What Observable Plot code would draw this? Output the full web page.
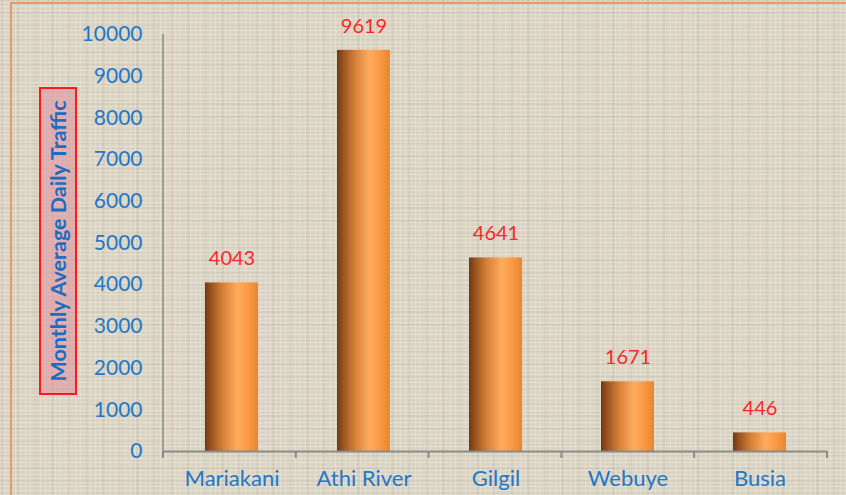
<!DOCTYPE html>
<html>
<head>
<meta charset="utf-8">
<script src="https://cdn.jsdelivr.net/npm/d3@7"></script>
<script src="https://cdn.jsdelivr.net/npm/@observablehq/plot@0.6"></script>
<style>
  html, body { margin: 0; padding: 0; }
  body {
    width: 846px; height: 495px; overflow: hidden; position: relative;
    background-color: #dad2c2;
    background-image:
      repeating-linear-gradient(0deg, rgba(255,255,245,0.30) 0px, rgba(255,255,245,0.30) 1px, transparent 1px, transparent 4px),
      repeating-linear-gradient(90deg, rgba(255,255,245,0.22) 0px, rgba(255,255,245,0.22) 1px, transparent 1px, transparent 5px),
      repeating-linear-gradient(90deg, rgba(120,105,85,0.07) 0px, rgba(120,105,85,0.07) 3px, transparent 3px, transparent 17px),
      repeating-linear-gradient(0deg, rgba(110,95,75,0.06) 0px, rgba(110,95,75,0.06) 2px, transparent 2px, transparent 13px);
  }
  #frame { position: absolute; left: 10px; top: 2px; width: 900px; height: 600px;
    border-left: 2px solid #e39a6c; border-top: 2px solid #e39a6c; pointer-events: none; }
  #chart { position: absolute; left: 0; top: 0; }
</style>
</head>
<body>
<div id="frame"></div>
<div id="chart"></div>
<script>
const categories = ["Mariakani", "Athi River", "Gilgil", "Webuye", "Busia"];
const values = [4043, 9619, 4641, 1671, 446];
const yTicks = [0, 1000, 2000, 3000, 4000, 5000, 6000, 7000, 8000, 9000, 10000];
const yTitle = "Monthly Average Daily Traffic";

const data = categories.map((c, i) => ({category: c, value: values[i]}));

const W = 846, H = 495, ML = 163, MR = 19, MT = 34, MB = 44;
const blue = "#1f78c8";
const font = "Lato, 'Open Sans', sans-serif";

const plot = Plot.plot({
  width: W, height: H,
  marginLeft: ML, marginRight: MR, marginTop: MT, marginBottom: MB,
  style: {background: "transparent", fontFamily: font},
  x: {domain: categories, paddingInner: 0.6, paddingOuter: 0.3, label: null},
  y: {domain: [0, 10000], label: null},
  marks: [
    Plot.barY(data, {x: "category", y: "value", fill: "url(#barGrad)"}),
    Plot.axisY({ticks: yTicks, tickSize: 0, tickPadding: 21, fontSize: 21, fill: blue, tickFormat: d => String(d), label: null}),
    Plot.axisX({tickSize: 0, tickPadding: 19, fontSize: 22, fill: blue, label: null}),
    Plot.ruleY([0], {stroke: "#8a8a8a", strokeWidth: 2}),
    Plot.text(data, {x: "category", y: "value", text: d => String(d.value), dy: -24, fill: "#f52a2a", fontSize: 20})
  ]
});

const svg = d3.select(plot);
// gradient definition for cylindrical bars
const defs = svg.insert("defs", ":first-child");
const g = defs.append("linearGradient").attr("id", "barGrad").attr("x1", "0").attr("x2", "1").attr("y1", "0").attr("y2", "0");
[[0, "#6e3a12"], [0.12, "#9a5420"], [0.35, "#d9823a"], [0.62, "#ffac60"], [0.85, "#f7953e"], [1, "#e98530"]]
  .forEach(([o, c]) => g.append("stop").attr("offset", o).attr("stop-color", c));

// y axis line and category boundary ticks, positioned from the scales
const ys = plot.scale("y");
const y0 = ys.apply(0), yTop = ys.apply(10000);
const ax = svg.append("g").attr("stroke", "#8a8a8a");
ax.append("line").attr("x1", ML).attr("x2", ML).attr("y1", yTop).attr("y2", y0 + 1).attr("stroke-width", 1.5);
const step = (W - ML - MR) / categories.length;
d3.range(categories.length + 1).forEach(i => {
  const x = ML + i * step;
  ax.append("line").attr("x1", x).attr("x2", x).attr("y1", y0).attr("y2", y0 + 7).attr("stroke-width", 2);
});

// y axis title box
const tb = svg.append("g");
tb.append("rect").attr("x", 40).attr("y", 88).attr("width", 36).attr("height", 306)
  .attr("fill", "rgba(225,150,162,0.62)").attr("stroke", "#ff1a1a").attr("stroke-width", 2);
tb.append("text").attr("transform", `translate(58,${(88 + 394) / 2}) rotate(-90)`)
  .attr("text-anchor", "middle").attr("dominant-baseline", "central")
  .attr("font-family", font).attr("font-weight", "bold").attr("font-size", 21.5)
  .attr("fill", "#1a6cc4").text(yTitle);

document.getElementById("chart").appendChild(plot);
</script>
</body>
</html>
